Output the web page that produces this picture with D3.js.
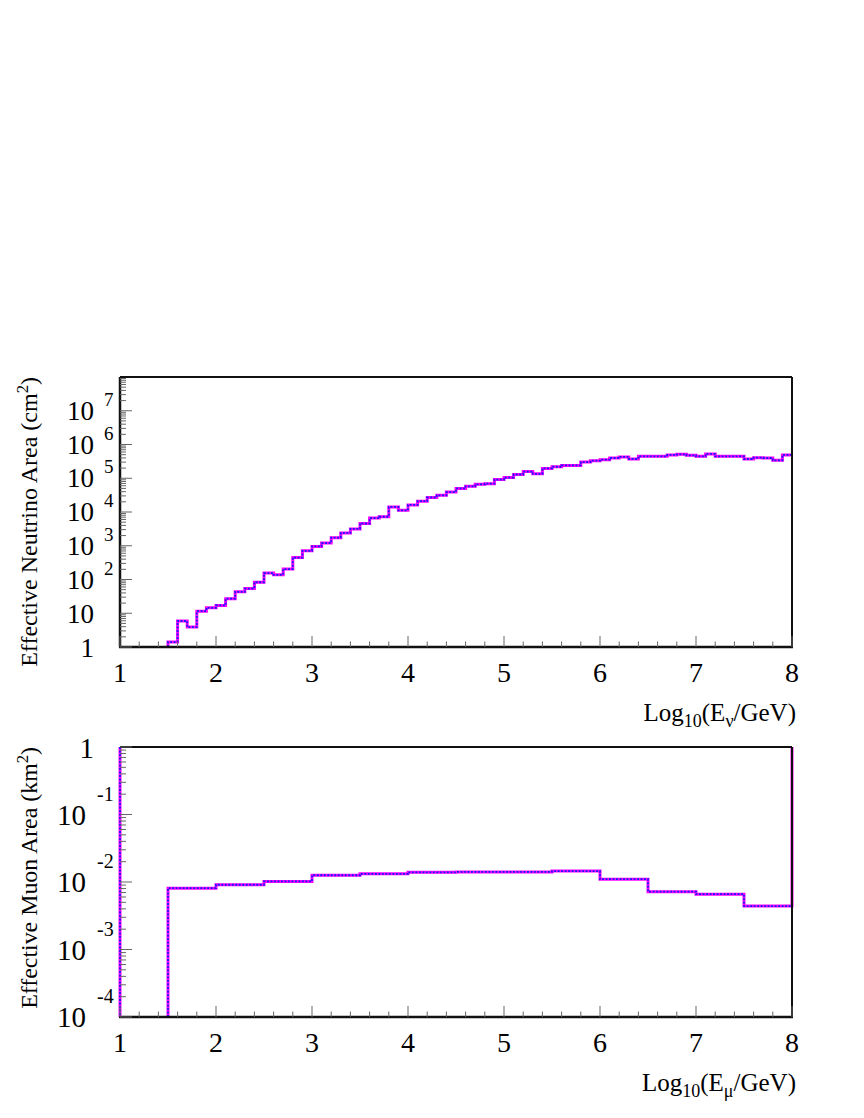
<!DOCTYPE html>
<html>
<head>
<meta charset="utf-8">
<script src="https://cdn.jsdelivr.net/npm/d3@7"></script>
<style>
  body { margin: 0; background: #fff; }
  svg text { font-family: "Liberation Serif", "Times New Roman", serif; fill: #000; }
</style>
</head>
<body>
<div id="chart"></div>
<script>
// ---- data ----
// top panel: effective neutrino area (cm^2), 0.1 wide bins in log10(E/GeV), first filled bin starts at 1.5
const nuBinStart = 1.5;
const nuBinWidth = 0.1;
const nuArea = [
    1.4, 5.9, 3.9, 11.5, 14.5,
    17, 27, 43, 54, 83, 155, 138, 204, 447, 708,
    955, 1200, 1740, 2400, 3160, 4570, 6600, 7240, 14100, 11200,
    16200, 20900, 26900, 31300, 38900, 50100, 57500, 66100, 69200, 91200,
    105000, 129000, 158000, 135000, 195000, 219000, 240000, 240000, 302000, 331000,
    355000, 398000, 427000, 372000, 447000, 447000, 447000, 490000, 513000, 479000,
    447000, 525000, 447000, 447000, 447000, 372000, 407000, 398000, 339000, 490000
];

// bottom panel: effective muon area (km^2), 0.5 wide bins, first filled bin starts at 1.5
const muBinStart = 1.5;
const muBinWidth = 0.5;
const muArea = [0.0081, 0.0091, 0.0102, 0.0126, 0.0132, 0.0139, 0.0141, 0.0141, 0.0145, 0.011, 0.0072, 0.0066, 0.0044];

// axis ticks and labels
const xTicks = [1, 2, 3, 4, 5, 6, 7, 8];
const nuYTicks = [1, 10, 1e2, 1e3, 1e4, 1e5, 1e6, 1e7];
const nuYLabels = [["1", ""], ["10", ""], ["10", "2"], ["10", "3"], ["10", "4"], ["10", "5"], ["10", "6"], ["10", "7"]];
const muYTicks = [1e-4, 1e-3, 1e-2, 1e-1, 1];
const muYLabels = [["10", "-4"], ["10", "-3"], ["10", "-2"], ["10", "-1"], ["1", ""]];

// ---- layout ----
const W = 864, H = 1118;
const svg = d3.select("#chart")
    .append("svg")
    .attr("width", W)
    .attr("height", H);

svg.append("rect").attr("width", W).attr("height", H).attr("fill", "#fff");

const x = d3.scaleLinear().domain([1, 8]).range([120, 792]);

// build a step histogram as a list of points for curveStepAfter
function stepPoints(start, width, values, yMin, yMax, closeTop) {
    const pts = [[start, yMin]];
    values.forEach((v, i) => pts.push([start + i * width, v]));
    const last = values[values.length - 1];
    pts.push([start + values.length * width, last]);
    if (closeTop) pts.push([start + values.length * width, yMax]);
    return pts;
}

function drawPanel(cfg) {
    const y = d3.scaleLog().domain(cfg.yDomain).range([cfg.bottom, cfg.top]);
    const g = svg.append("g");
    const [x0, x1] = x.range();

    // histogram (magenta with blue dotted overlay)
    const line = d3.line()
        .x(d => x(d[0]))
        .y(d => y(d[1]))
        .curve(d3.curveStepAfter);
    let d = line(stepPoints(cfg.binStart, cfg.binWidth, cfg.values, cfg.yDomain[0], cfg.yDomain[1], cfg.edges));
    if (cfg.edges) d = "M" + x(1) + "," + cfg.top + "V" + cfg.bottom + d;
    g.append("path").attr("d", d).attr("fill", "none")
        .attr("stroke", "#ff00ff").attr("stroke-width", 3);
    g.append("path").attr("d", d).attr("fill", "none")
        .attr("stroke", "#1a1aff").attr("stroke-width", 1.8).attr("stroke-dasharray", "2,1.5");

    // frame
    g.append("line").attr("x1", x0).attr("x2", x1).attr("y1", cfg.top).attr("y2", cfg.top)
        .attr("stroke", "#111").attr("stroke-width", 2);
    g.append("line").attr("x1", x1).attr("x2", x1).attr("y1", cfg.top).attr("y2", cfg.bottom)
        .attr("stroke", "#111").attr("stroke-width", 2);
    // axes lines (a bit heavier)
    g.append("line").attr("x1", x0 - 1).attr("x2", x1 + 1).attr("y1", cfg.bottom).attr("y2", cfg.bottom)
        .attr("stroke", "#111").attr("stroke-width", 2.5);
    if (!cfg.edges) {
        g.append("line").attr("x1", x0).attr("x2", x0).attr("y1", cfg.top).attr("y2", cfg.bottom)
            .attr("stroke", "#111").attr("stroke-width", 2.5);
    }

    // x ticks (inside, pointing up)
    const xMinor = d3.range(1, 8.0001, 0.2).filter(v => Math.abs(v - Math.round(v)) > 1e-6);
    g.selectAll(".xminor").data(xMinor).enter().append("line")
        .attr("x1", v => x(v)).attr("x2", v => x(v))
        .attr("y1", cfg.bottom).attr("y2", cfg.bottom - 5.5)
        .attr("stroke", "#666").attr("stroke-width", 1);
    g.selectAll(".xmajor").data(xTicks).enter().append("line")
        .attr("x1", v => x(v)).attr("x2", v => x(v))
        .attr("y1", cfg.bottom).attr("y2", cfg.bottom - 11)
        .attr("stroke", "#666").attr("stroke-width", 1);

    // y ticks (inside, pointing right)
    const [lo, hi] = cfg.yDomain;
    const yMinor = [];
    for (let e = Math.round(Math.log10(lo)); e < Math.round(Math.log10(hi)); e++) {
        for (let k = 2; k <= 9; k++) yMinor.push(k * Math.pow(10, e));
    }
    g.selectAll(".yminor").data(yMinor).enter().append("line")
        .attr("x1", x0).attr("x2", x0 + 6)
        .attr("y1", v => y(v)).attr("y2", v => y(v))
        .attr("stroke", "#666").attr("stroke-width", 1);
    g.selectAll(".ymajor").data(cfg.yTicks).enter().append("line")
        .attr("x1", x0).attr("x2", x0 + 12)
        .attr("y1", v => y(v)).attr("y2", v => y(v))
        .attr("stroke", "#666").attr("stroke-width", 1);

    // x tick labels
    g.selectAll(".xlab").data(xTicks).enter().append("text")
        .attr("x", v => x(v)).attr("y", cfg.bottom + 35)
        .attr("text-anchor", "middle")
        .style("font-size", "28px")
        .text(v => v);

    // y tick labels: base and raised exponent
    cfg.yTicks.forEach((v, i) => {
        const [base, ex] = cfg.yLabels[i];
        const ty = y(v);
        g.append("text")
            .attr("x", ex ? cfg.lab.baseX : cfg.lab.plainX)
            .attr("y", ty + (ex ? cfg.lab.baseDy : cfg.lab.plainDy))
            .attr("text-anchor", "end")
            .style("font-size", cfg.lab.size + "px")
            .text(base);
        if (ex) {
            g.append("text")
                .attr("x", cfg.lab.expX)
                .attr("y", ty + cfg.lab.expDy)
                .attr("text-anchor", "start")
                .style("font-size", cfg.lab.expSize + "px")
                .text(ex);
        }
    });

    // x title: Log10(E_sub/GeV)
    const xt = g.append("text")
        .attr("x", 796).attr("y", cfg.bottom + 74)
        .attr("text-anchor", "end")
        .style("font-size", "25px");
    xt.append("tspan").text("Log");
    xt.append("tspan").attr("dy", 6).style("font-size", "18px").text("10");
    xt.append("tspan").attr("dy", -6).text("(E");
    xt.append("tspan").attr("dy", 6).style("font-size", "18px").text(cfg.sub);
    xt.append("tspan").attr("dy", -6).text("/GeV)");

    // y title (rotated), right-aligned to the top of the frame
    const yt = g.append("text")
        .attr("text-anchor", "end")
        .style("font-size", "23px");
    yt.append("tspan").text(cfg.yTitle);
    yt.append("tspan").attr("dy", -9).style("font-size", "16px").text("2");
    yt.append("tspan").attr("dy", 9).text(")");
    const len = yt.node().getComputedTextLength();
    const sx = cfg.yTitleLen / len;
    yt.attr("transform", "translate(37," + cfg.top + ") rotate(-90) scale(" + sx + ",1)");
}

drawPanel({
    top: 377, bottom: 647,
    yDomain: [1, 1e8],
    binStart: nuBinStart, binWidth: nuBinWidth, values: nuArea,
    edges: false,
    yTicks: nuYTicks, yLabels: nuYLabels,
    lab: { size: 27, expSize: 19, plainX: 94, baseX: 94, expX: 104, plainDy: 10, baseDy: 9, expDy: -5 },
    sub: "\u03bd",
    yTitle: "Effective Neutrino Area (cm",
    yTitleLen: 290
});

drawPanel({
    top: 747, bottom: 1017,
    yDomain: [1e-4, 1],
    binStart: muBinStart, binWidth: muBinWidth, values: muArea,
    edges: true,
    yTicks: muYTicks, yLabels: muYLabels,
    lab: { size: 29, expSize: 20, plainX: 94, baseX: 86, expX: 97, plainDy: 11, baseDy: 10, expDy: -14 },
    sub: "\u03bc",
    yTitle: "Effective Muon Area (km",
    yTitleLen: 262
});
</script>
</body>
</html>
